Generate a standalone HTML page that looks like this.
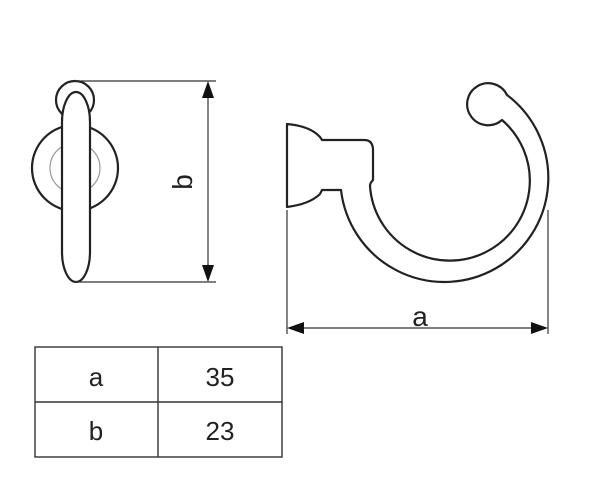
<!DOCTYPE html>
<html><head><style>html,body{margin:0;padding:0;background:#fff}svg{display:block}</style></head><body>
<svg width="600" height="477" viewBox="0 0 600 477" xmlns="http://www.w3.org/2000/svg" font-family="Liberation Sans, sans-serif">
<g fill="none" stroke="#222" stroke-width="2.2">
  <circle cx="75" cy="168" r="43"/>
  <circle cx="75" cy="100" r="19" fill="#fff"/>
</g>
<circle cx="75" cy="168" r="25" fill="none" stroke="#999" stroke-width="1.2"/>
<rect x="62" y="92" width="28" height="190" rx="14" ry="30" fill="#fff" stroke="#222" stroke-width="2.2"/>
<g stroke="#333" stroke-width="1.2" fill="none">
  <line x1="75" y1="81" x2="216" y2="81"/>
  <line x1="75" y1="282" x2="216" y2="282"/>
  <line x1="208" y1="90" x2="208" y2="273"/>
  <line x1="287" y1="210" x2="287" y2="334"/>
  <line x1="548" y1="210" x2="548" y2="334"/>
  <line x1="296" y1="328" x2="539" y2="328"/>
</g>
<g fill="#111">
  <polygon points="208,81 202,98 214,98"/>
  <polygon points="208,282 202,265 214,265"/>
  <polygon points="287,328 304,322 304,334"/>
  <polygon points="548,328 531,322 531,334"/>
</g>
<text x="0" y="0" font-size="28" fill="#222" transform="translate(192,182) rotate(-90)" text-anchor="middle">b</text>
<text x="420" y="326" font-size="28" fill="#222" text-anchor="middle">a</text>
<g fill="#fff" stroke="#222" stroke-width="2.2" stroke-linejoin="round">
  <path d="M287,124 Q310,126 320,137 L322,140 L364,140 Q373,140 373,150 L373,180 Q370,183 370,186 A80,80 0 1 0 502,120 A21,21 0 1 1 507,95 A104,104 0 1 1 341,190 L322,190 L320,194 Q310,204 287,207 Z"/>
</g>
<g fill="none" stroke="#333" stroke-width="1.4">
  <rect x="35" y="347" width="247" height="110"/>
  <line x1="158" y1="347" x2="158" y2="457"/>
  <line x1="35" y1="402" x2="282" y2="402"/>
</g>
<g font-size="26" fill="#222" text-anchor="middle">
  <text x="96" y="386">a</text>
  <text x="220" y="386">35</text>
  <text x="96" y="440">b</text>
  <text x="220" y="440">23</text>
</g>
</svg>
</body></html>
